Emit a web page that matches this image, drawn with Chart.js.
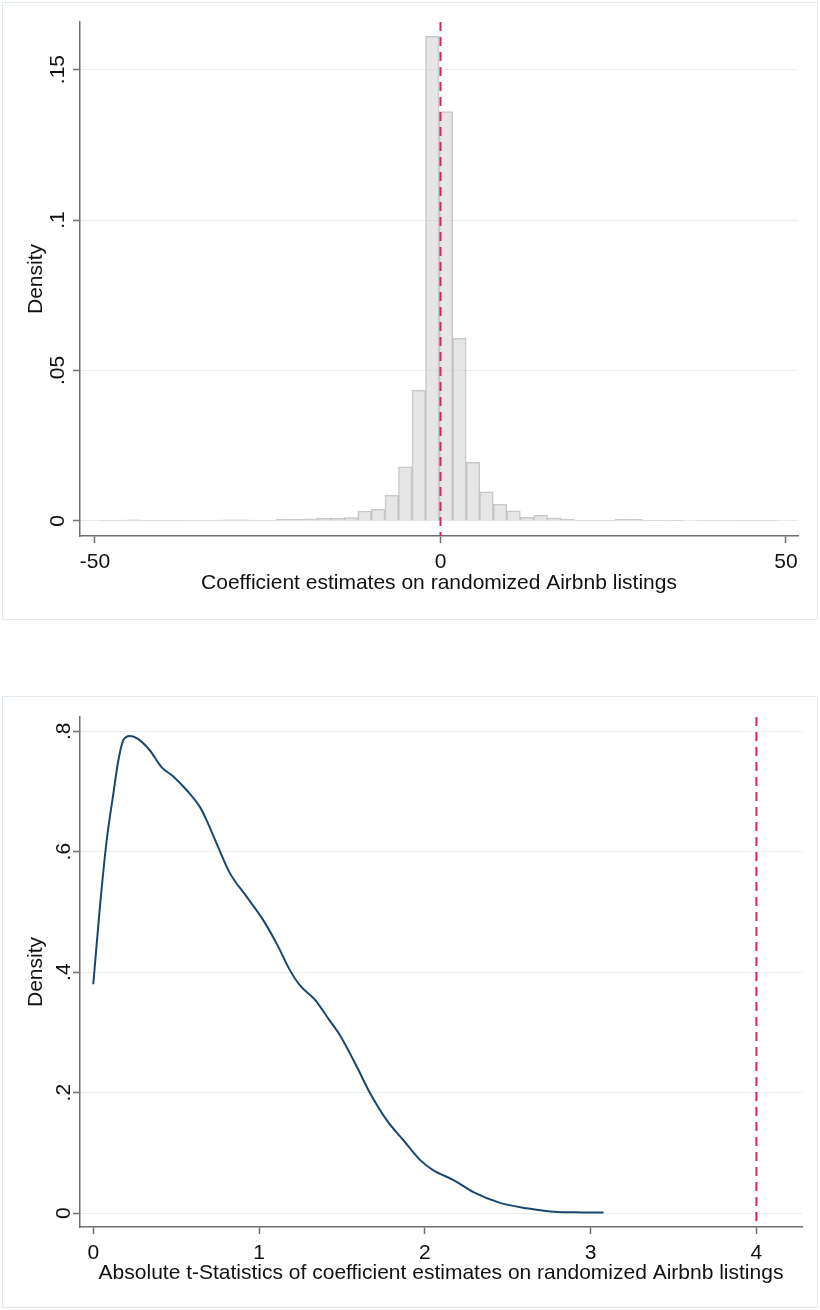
<!DOCTYPE html>
<html>
<head>
<meta charset="utf-8">
<script src="https://cdn.jsdelivr.net/npm/chart.js@4"></script>
<style>
  body { margin: 0; background: #fff; width: 820px; height: 1310px; position: relative; overflow: hidden; }
  .frame { position: absolute; border: 1px solid #e1eaee; pointer-events: none; }
  canvas { position: absolute; left: 0; }
</style>
</head>
<body>
<div class="frame" style="left:2px;top:2px;width:814px;height:616px"></div>
<div class="frame" style="left:2px;top:696px;width:814px;height:610px"></div>
<canvas id="histChart" width="820" height="622" style="top:0"></canvas>
<canvas id="densityChart" width="820" height="616" style="top:694px"></canvas>
<script>
//========== histogram ==========//

// setup
const binCenters = [
  -48.22, -46.26, -44.30, -42.34, -40.38, -38.42, -36.46, -34.50, -32.54, -30.58,
  -28.62, -26.66, -24.70, -22.74, -20.78, -18.82, -16.86, -14.90, -12.94, -10.98,
  -9.02, -7.06, -5.10, -3.14, -1.18, 0.78, 2.74, 4.70, 6.66, 8.62,
  10.58, 12.54, 14.50, 16.46, 18.42, 20.38, 22.34, 24.30, 26.26, 28.22,
  30.18, 32.14, 34.10, 36.06, 38.02, 39.98, 41.94, 43.90, 45.86, 47.82
];
const binDensity = [
  0.0003, 0.0003, 0.0004, 0.0002, 0.0002, 0.0002, 0.0003, 0.0003, 0.0003, 0.0004,
  0.0004, 0.0003, 0.0003, 0.0006, 0.0006, 0.0007, 0.0009, 0.0009, 0.0011, 0.0033,
  0.0039, 0.0086, 0.0180, 0.0435, 0.1610, 0.1360, 0.0607, 0.0195, 0.0097, 0.0056,
  0.0034, 0.0012, 0.0019, 0.0010, 0.0006, 0.0002, 0.0002, 0.0002, 0.0005, 0.0005,
  0.0001, 0.0001, 0.0001, null, 0.0003, 0.0003, 0.0003, 0.0002, 0.0002, 0.0002
];
const histXTicks = [-50, 0, 50];
const histYTicks = [0, 0.05, 0.1, 0.15];

//========== kernel density ==========//

const tStat = [
  0, 0.040, 0.081, 0.121, 0.151, 0.181, 0.221, 0.272, 0.342, 0.413,
  0.483, 0.564, 0.644, 0.684, 0.745, 0.825, 0.926, 1.026, 1.107, 1.187,
  1.247, 1.338, 1.420, 1.489, 1.590, 1.670, 1.771, 1.871, 1.972, 2.052,
  2.173, 2.293, 2.454, 2.616, 2.776, 2.950, 3.078
];
const tDensity = [
  0.380, 0.508, 0.619, 0.696, 0.751, 0.785, 0.792, 0.787, 0.768, 0.740,
  0.725, 0.702, 0.674, 0.652, 0.613, 0.564, 0.525, 0.486, 0.447, 0.403,
  0.378, 0.354, 0.322, 0.295, 0.243, 0.199, 0.154, 0.121, 0.088, 0.071,
  0.055, 0.035, 0.017, 0.008, 0.0023, 0.0012, 0.001
];
const densXTicks = [0, 1, 2, 3, 4];
const densYTicks = [0, 0.2, 0.4, 0.6, 0.8];

// vertical reference lines
const histRef = 0;
const densRef = 4;

//========== shared bits ==========//

const FONT = "'Liberation Sans', Arial, sans-serif";
const AXIS = '#6e6e6e';
const GRID = '#e4eef0';
const CRANBERRY = '#d8265e';

// Stata-style labels: .05 instead of 0.05
const stataNum = v => {
  if (v === 0) return '0';
  return String(+v.toFixed(3)).replace(/^0\./, '.').replace(/^-0\./, '-.');
};

const refLine = {
  id: 'refLine',
  afterDatasetsDraw(chart, args, opts) {
    const { ctx, chartArea, scales: { x } } = chart;
    const px = x.getPixelForValue(opts.value);
    ctx.save();
    ctx.strokeStyle = opts.color;
    ctx.lineWidth = 2;
    ctx.setLineDash([9, 6]);
    ctx.beginPath();
    ctx.moveTo(px, chartArea.top);
    ctx.lineTo(px, chartArea.bottom);
    ctx.stroke();
    ctx.restore();
  }
};

function xAxis(min, max, step, title, h, labelPad, titlePad) {
  return {
    type: 'linear', min, max, offset: false,
    afterFit: s => { s.height = h; },
    border: { color: AXIS, width: 1.5 },
    grid: { drawOnChartArea: false, offset: false, tickColor: AXIS, tickLength: 7, tickWidth: 1.5 },
    ticks: { stepSize: step, includeBounds: false, padding: labelPad, color: '#111',
             font: { family: FONT, size: 21 }, maxRotation: 0, autoSkip: false, callback: stataNum },
    title: { display: true, text: title, color: '#111', font: { family: FONT, size: 21 },
             padding: { top: 0, bottom: titlePad } }
  };
}

function yAxis(min, max, step) {
  return {
    type: 'linear', min, max, beginAtZero: false,
    afterFit: s => { s.width = 80; },
    border: { color: AXIS, width: 1.5 },
    grid: { color: GRID, lineWidth: 1, tickColor: AXIS, tickLength: 7, tickWidth: 1.5 },
    ticks: { stepSize: step, includeBounds: false, padding: 0, color: '#111', crossAlign: 'center',
             minRotation: 90, maxRotation: 90, font: { family: FONT, size: 21 }, callback: stataNum },
    title: { display: true, text: 'Density', color: '#111', font: { family: FONT, size: 21 },
             padding: { top: 24, bottom: 0 } }
  };
}

// config
const histConfig = {
  type: 'bar',
  data: {
    datasets: [{
      data: binCenters.map((c, i) => ({ x: c, y: binDensity[i] })),
      backgroundColor: 'rgba(214,214,214,0.6)',
      borderColor: 'rgba(175,175,175,0.7)',
      borderWidth: 1,
      barPercentage: 1,
      categoryPercentage: 1,
      grouped: false
    }]
  },
  options: {
    responsive: false,
    animation: false,
    layout: { padding: { left: 0, top: 22, right: 22, bottom: 0 } },
    plugins: { legend: { display: false }, tooltip: { enabled: false },
               refLine: { value: histRef, color: CRANBERRY } },
    scales: {
      x: xAxis(-52.17, 51.74, 50, 'Coefficient estimates on randomized Airbnb listings', 86, 7, 26),
      y: yAxis(-0.005, 0.1658, 0.05)
    }
  },
  plugins: [refLine]
};

const densConfig = {
  type: 'line',
  data: {
    datasets: [{
      data: tStat.map((t, i) => ({ x: t, y: tDensity[i] })),
      borderColor: '#1a476f',
      borderWidth: 2,
      pointRadius: 0,
      fill: false,
      cubicInterpolationMode: 'monotone'
    }]
  },
  options: {
    responsive: false,
    animation: false,
    layout: { padding: { left: 0, top: 23, right: 18, bottom: 0 } },
    plugins: { legend: { display: false }, tooltip: { enabled: false },
               refLine: { value: densRef, color: CRANBERRY } },
    scales: {
      x: xAxis(-0.08, 4.275, 1, 'Absolute t-Statistics of coefficient estimates on randomized Airbnb listings', 83, 7, 24),
      y: yAxis(-0.023, 0.8236, 0.2)
    }
  },
  plugins: [refLine]
};

// render init block
const histChart = new Chart(document.getElementById('histChart'), histConfig);
const densityChart = new Chart(document.getElementById('densityChart'), densConfig);
</script>
</body>
</html>
